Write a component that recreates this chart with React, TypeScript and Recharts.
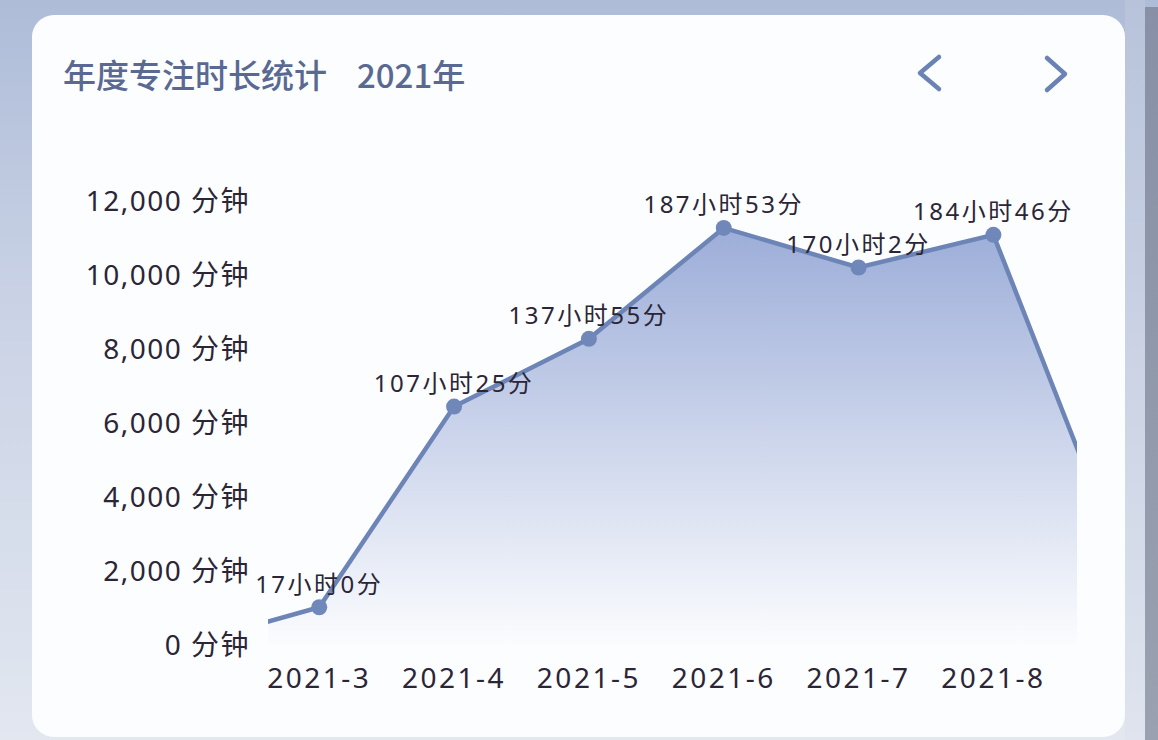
import { AreaChart, Area, XAxis, YAxis, LabelList } from "recharts";

// months shown on the x axis (Feb and Sep sit just outside the visible window)
const months = [2, 3, 4, 5, 6, 7, 8, 9];
// focus time per month, in minutes
const focusMinutes = [0, 1020, 6445, 8275, 11273, 10202, 11086, 1800];
const yTicks = [0, 2000, 4000, 6000, 8000, 10000, 12000];
const xTicks = [3, 4, 5, 6, 7, 8];

const TITLE = "年度专注时长统计";
const YEAR = "2021年";

const data = months.map((m, i) => ({ month: m, minutes: focusMinutes[i] }));

const FONT = '"Noto Sans", "Noto Sans CJK SC", sans-serif';
const INK = "#2b2536";
const BLUE = "#6d85b6";

const fmtDuration = (v: number) => `${Math.floor(v / 60)}小时${v % 60}分`;

const PointLabel = (props: any) => {
  const { x, y, value, index } = props;
  const m = data[index]?.month;
  if (m < 3 || m > 8) return null;
  return (
    <text
      x={x}
      y={y - 24}
      textAnchor="middle"
      dominantBaseline="central"
      fontSize={24}
      fontFamily={FONT}
      letterSpacing={2.5}
      fill={INK}
    >
      {fmtDuration(value)}
    </text>
  );
};

export default function App() {
  return (
    <div
      style={{
        position: "absolute", left: 0, top: 0, width: 1158, height: 740, overflow: "hidden",
        background: "linear-gradient(180deg, #aebcd8 0%, #c9d2e5 40%, #e2e7f0 100%)",
        fontFamily: FONT,
      }}
    >
      {/* right-side strips */}
      <div style={{ position: "absolute", left: 1125, top: 0, width: 20, height: 740, background: "linear-gradient(180deg,#b8c3db,#dfe4ee)" }} />
      <div style={{ position: "absolute", left: 1145, top: 7, width: 13, height: 733, background: "linear-gradient(180deg,#8790a6,#9aa1b0)" }} />

      {/* card */}
      <div
        style={{
          position: "absolute", left: 32, top: 15, width: 1093, height: 722,
          borderRadius: 22, background: "#fcfdff",
        }}
      />

      {/* title */}
      <div
        style={{
          position: "absolute", left: 63, top: 56, fontSize: 33, lineHeight: "36px",
          color: "#5a6992", fontWeight: 500, whiteSpace: "pre",
          fontFamily: '"Noto Sans CJK SC", "Noto Sans", sans-serif',
        }}
      >
        <span>{TITLE}</span>
        <span style={{ marginLeft: 30 }}>{YEAR}</span>
      </div>

      {/* nav chevrons */}
      <svg style={{ position: "absolute", left: 0, top: 0 }} width={1158} height={120}>
        <polyline points="939,57 920,73 939,89" fill="none" stroke="#6b82b5" strokeWidth={4.5} strokeLinecap="round" strokeLinejoin="round" />
        <polyline points="1047,58 1065,74 1047,90" fill="none" stroke="#6b82b5" strokeWidth={4.5} strokeLinecap="round" strokeLinejoin="round" />
      </svg>

      <div style={{ position: "absolute", left: 0, top: 150 }}>
        <AreaChart width={1158} height={580} data={data} margin={{ top: 51, right: 81, bottom: 25, left: 0 }}>
          <defs>
            <linearGradient id="focusFill" x1="0" y1="0" x2="0" y2="1">
              <stop offset="0%" stopColor="#9cadd8" />
              <stop offset="100%" stopColor="#fbfcfe" />
            </linearGradient>
          </defs>
          <XAxis
            dataKey="month"
            type="number"
            domain={[2.62, 8.62]}
            allowDataOverflow
            ticks={xTicks}
            interval={0}
            tickFormatter={(m: number) => `2021-${m}`}
            axisLine={false}
            tickLine={false}
            tickMargin={17}
            height={60}
            tick={{ fontSize: 28, fill: INK, fontFamily: FONT, letterSpacing: 2.5 }}
          />
          <YAxis
            domain={[0, 12000]}
            ticks={yTicks}
            interval={0}
            width={268}
            axisLine={false}
            tickLine={false}
            tickMargin={12}
            tickFormatter={(v: number) => `${v.toLocaleString("en-US")} 分钟`}
            tick={{ fontSize: 28, fill: INK, fontFamily: FONT, letterSpacing: 1.5 }}
          />
          <Area
            type="linear"
            dataKey="minutes"
            stroke={BLUE}
            strokeWidth={4.5}
            fill="url(#focusFill)"
            fillOpacity={1}
            dot={{ r: 8, fill: "#7088b9", stroke: "none" }}
            activeDot={false}
            isAnimationActive={false}
          >
            <LabelList dataKey="minutes" content={<PointLabel />} />
          </Area>
        </AreaChart>
      </div>
    </div>
  );
}
